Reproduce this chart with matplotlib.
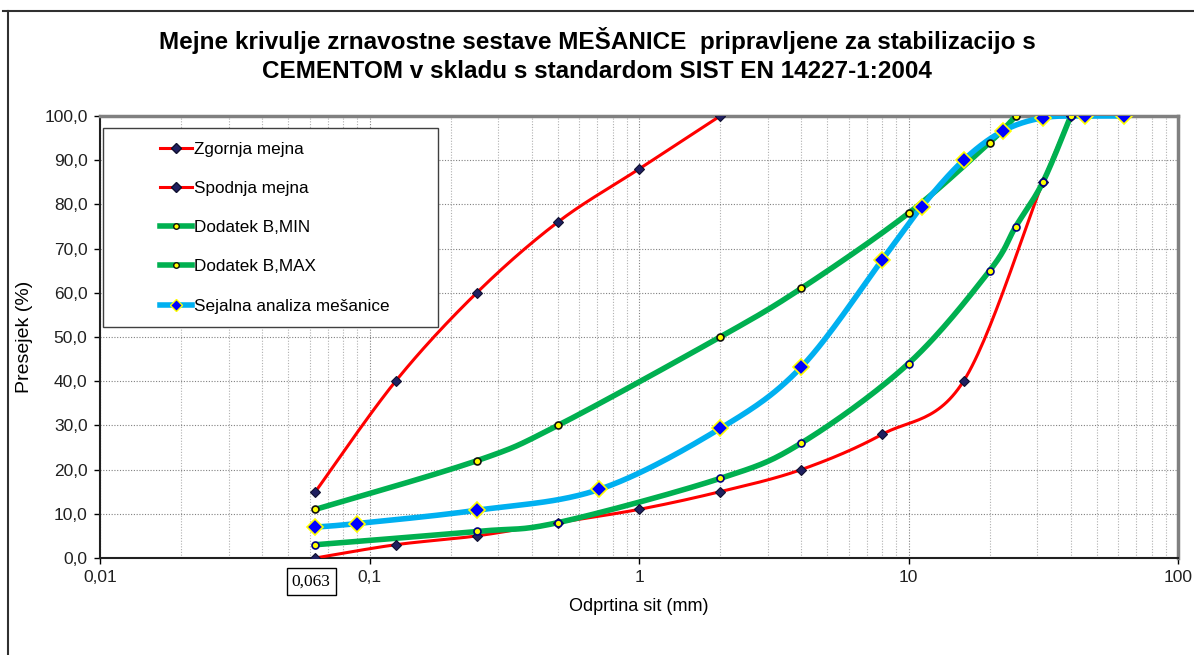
import numpy as np
import matplotlib
matplotlib.use("Agg")
from matplotlib import pyplot as plt
from matplotlib.ticker import FixedLocator, FuncFormatter, LogLocator, NullFormatter
from matplotlib.lines import Line2D
from matplotlib.legend_handler import HandlerLine2D

#
# Data
#
zgornja_x = [0.063, 0.125, 0.25, 0.5, 1, 2]
zgornja_y = [15, 40, 60, 76, 88, 100]

spodnja_x = [0.063, 0.125, 0.25, 0.5, 1, 2, 4, 8, 16, 31.5, 40]
spodnja_y = [0, 3, 5, 8, 11, 15, 20, 28, 40, 85, 100]

bmin_x = [0.063, 0.25, 0.5, 2, 4, 10, 20, 25, 31.5, 40]
bmin_y = [3, 6, 8, 18, 26, 44, 65, 75, 85, 100]

bmax_x = [0.063, 0.25, 0.5, 2, 4, 10, 20, 25]
bmax_y = [11, 22, 30, 50, 61, 78, 94, 100]

sejalna_x = [0.063, 0.09, 0.25, 0.71, 2, 4, 8, 11.2, 16, 22.4, 31.5, 45, 63]
sejalna_y = [7, 7.8, 10.8, 15.5, 29.3, 43.2, 67.5, 79.5, 90, 96.6, 99.6, 100, 100]

labels = ["Zgornja mejna", "Spodnja mejna", "Dodatek B,MIN", "Dodatek B,MAX",
          "Sejalna analiza mešanice"]

title = ("Mejne krivulje zrnavostne sestave MEŠANICE  pripravljene za stabilizacijo s\n"
         "CEMENTOM v skladu s standardom SIST EN 14227-1:2004")

plt.rcParams['font.family'] = ['Liberation Sans', 'DejaVu Sans']


# Excel-like smoothed line (Bezier through points, in log-x space)
def smooth(xs, ys, n=30):
    lx = np.log10(np.asarray(xs, dtype=float))
    y = np.asarray(ys, dtype=float)
    pts = np.column_stack([lx, y])
    out = []
    m = len(pts)
    for i in range(m - 1):
        p0 = pts[i - 1] if i > 0 else pts[i]
        p1 = pts[i]
        p2 = pts[i + 1]
        p3 = pts[i + 2] if i + 2 < m else pts[i + 1]
        c1 = p1 + (p2 - p0) / 6.0
        c2 = p2 - (p3 - p1) / 6.0
        t = np.linspace(0, 1, n)[:, None]
        seg = ((1 - t) ** 3) * p1 + 3 * ((1 - t) ** 2) * t * c1 + 3 * (1 - t) * t ** 2 * c2 + t ** 3 * p2
        out.append(seg if i == 0 else seg[1:])
    seg = np.vstack(out)
    return 10 ** seg[:, 0], seg[:, 1]


# Legend handler drawing the sample only in the right part of the handle box
class ShiftedHandler(HandlerLine2D):
    def __init__(self, frac, **kw):
        super().__init__(**kw)
        self.frac = frac

    def create_artists(self, legend, orig_handle, xdescent, ydescent, width, height, fontsize, trans):
        w = width * self.frac
        return super().create_artists(legend, orig_handle, xdescent - (width - w), ydescent,
                                      w, height, fontsize, trans)


fig = plt.figure(figsize=(11.94, 6.55), dpi=100)
ax = fig.add_axes([100 / 1194, 1 - 558 / 655, 1078 / 1194, 442 / 655])

red = "#FF0000"
green = "#00B050"
cyan = "#00B0F0"

red_mk = dict(marker="D", ms=5.5, mfc="#202060", mec="#101030", mew=0.8)
green_mk = dict(marker="o", ms=5, mfc="#FFFF00", mec="#000080", mew=1.2)
green_mk2 = dict(marker="o", ms=5, mfc="#FFFF00", mec="#101010", mew=1.2)
blue_mk = dict(marker="D", ms=8, mfc="#0000FF", mec="#FFFF00", mew=1.2)

series = [
    (zgornja_x, zgornja_y, red, 2.2, red_mk),
    (spodnja_x, spodnja_y, red, 2.2, red_mk),
    (bmax_x, bmax_y, green, 4.0, green_mk2),
    (bmin_x, bmin_y, green, 4.0, green_mk),
    (sejalna_x, sejalna_y, cyan, 4.0, blue_mk),
]
for xs, ys, col, lw, mk in series:
    sx, sy = smooth(xs, ys)
    ax.plot(sx, sy, color=col, lw=lw, solid_capstyle="butt", zorder=3)
    ax.plot(xs, ys, ls="none", zorder=4, **mk)

ax.set_xscale("log")
ax.set_xlim(0.01, 100)
ax.set_ylim(0, 100)

ax.xaxis.set_major_locator(FixedLocator([0.01, 0.1, 1, 10, 100]))
ax.xaxis.set_minor_locator(LogLocator(base=10, subs=np.arange(2, 10)))
ax.xaxis.set_minor_formatter(NullFormatter())
ax.xaxis.set_major_formatter(FuncFormatter(lambda v, p: ("%g" % v).replace(".", ",")))
ax.yaxis.set_major_locator(FixedLocator(np.arange(0, 101, 10)))
ax.yaxis.set_major_formatter(FuncFormatter(lambda v, p: ("%.1f" % v).replace(".", ",")))

ax.grid(True, which="major", axis="both", color="#808080", linestyle=(0, (1, 1.5)), linewidth=0.8)
ax.grid(True, which="minor", axis="x", color="#B0B0B0", linestyle=(0, (1, 1.5)), linewidth=0.8)
ax.tick_params(which="major", direction="out", length=4, width=1, color="black",
               labelsize=12.5, labelcolor="#202020", pad=5)
ax.tick_params(which="minor", length=0)

for side in ["top", "right"]:
    ax.spines[side].set_color("#808080")
    ax.spines[side].set_linewidth(2.5)
for side in ["left", "bottom"]:
    ax.spines[side].set_color("#202020")
    ax.spines[side].set_linewidth(1.5)

ax.set_xlabel("Odprtina sit (mm)", fontsize=13, labelpad=9)
ax.set_ylabel("Presejek (%)", fontsize=14, labelpad=8)
fig.text(597 / 1194, 1 - 55 / 655, title, ha="center", va="center", fontsize=17.5,
         fontweight="bold", linespacing=1.32)

# boxed 0,063 label
ax.annotate("0,063", xy=(0.063, 0), xycoords="data", xytext=(-3, -17), textcoords="offset points",
            ha="center", va="center", fontsize=12.5, family="Liberation Serif",
            bbox=dict(boxstyle="square,pad=0.3", fc="white", ec="black", lw=1))

# legend
handles = [
    Line2D([], [], color=red, lw=2.2, marker="D", ms=5, mfc="#202060", mec="#101030"),
    Line2D([], [], color=red, lw=2.2, marker="D", ms=5, mfc="#202060", mec="#101030"),
    Line2D([], [], color=green, lw=4, marker="o", ms=4, mfc="#FFFF00", mec="#101010"),
    Line2D([], [], color=green, lw=4, marker="o", ms=4, mfc="#FFFF00", mec="#101010"),
    Line2D([], [], color=cyan, lw=4, marker="D", ms=6, mfc="#0000FF", mec="#FFFF00"),
]
leg = ax.legend(handles, labels, loc="upper left",
                bbox_to_anchor=(3 / 1078, (558 - 326) / 442, 335 / 1078, 198 / 442),
                mode="expand", fontsize=12.3, frameon=True, fancybox=False,
                edgecolor="#404040", framealpha=1, handlelength=4.4, handletextpad=0.1,
                labelspacing=1.42, borderpad=0.8, borderaxespad=0,
                handler_map={Line2D: ShiftedHandler(0.42, marker_pad=0)})
leg.get_frame().set_linewidth(1)
leg.set_zorder(10)

# chart area border (top and left)
fig.add_artist(Line2D([3 / 1194, 1], [1 - 11 / 655, 1 - 11 / 655], color="#303030", lw=1.5,
                      transform=fig.transFigure))
fig.add_artist(Line2D([8 / 1194, 8 / 1194], [0, 1 - 11 / 655], color="#303030", lw=1.5,
                      transform=fig.transFigure))

fig.savefig("out.png", dpi=100)
